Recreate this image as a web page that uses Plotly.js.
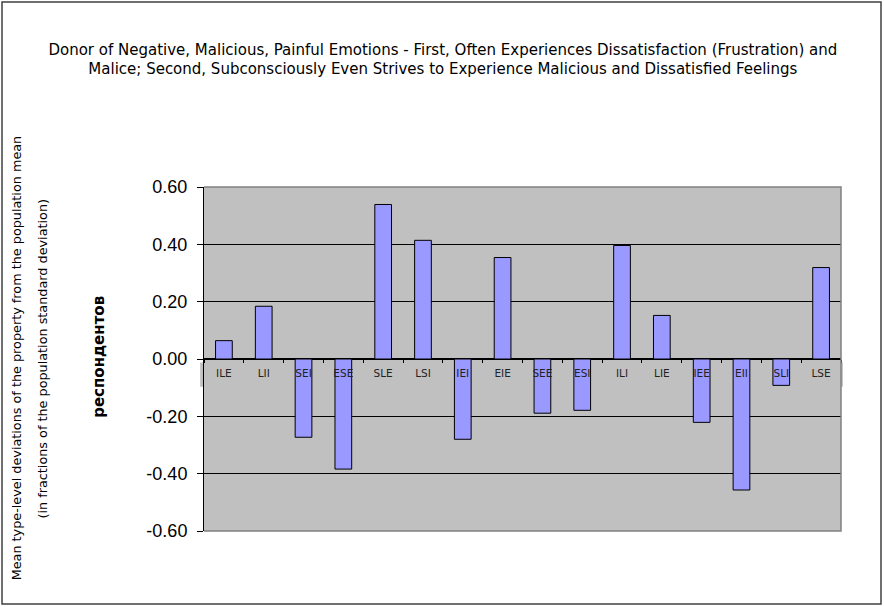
<!DOCTYPE html>
<html>
<head>
<meta charset="utf-8">
<script src="https://cdn.plot.ly/plotly-3.0.1.min.js"></script>
<style>
  html, body { margin: 0; padding: 0; background: #fff; }
  #chart { width: 884px; height: 607px; }
</style>
</head>
<body>
<div id="chart"></div>
<script>
// socionic types, in the order they appear on the chart
var types = ['ILE', 'LII', 'SEI', 'ESE', 'SLE', 'LSI', 'IEI', 'EIE',
             'SEE', 'ESI', 'ILI', 'LIE', 'IEE', 'EII', 'SLI', 'LSE'];

// mean deviation from population mean (in SD units)
var deviations = [0.064, 0.184, -0.273, -0.384, 0.539, 0.414, -0.280, 0.354,
                  -0.189, -0.179, 0.396, 0.152, -0.221, -0.457, -0.092, 0.319];

var yTicks = [-0.6, -0.4, -0.2, 0, 0.2, 0.4, 0.6];
var yTickLabels = ['-0.60', '-0.40', '-0.20', '0.00', '0.20', '0.40', '0.60'];

var titleText = 'Donor of Negative, Malicious, Painful Emotions - First, Often Experiences Dissatisfaction (Frustration) and<br>' +
                'Malice; Second, Subconsciously Even Strives to Experience Malicious and Dissatisfied Feelings';
var yTitle1 = 'Mean type-level deviations of the property from the population mean';
var yTitle2 = '(in fractions of the population standard deviation)';
var strayLabel = 'респондентов';

var trace = {
    type: 'bar',
    x: types,
    y: deviations,
    marker: {
        color: '#9999ff',
        line: { color: '#000000', width: 1 }
    },
    hoverinfo: 'x+y'
};

var layout = {
    width: 884,
    height: 607,
    margin: { l: 204, r: 43, t: 187, b: 76 },
    paper_bgcolor: '#ffffff',
    plot_bgcolor: '#c0c0c0',
    showlegend: false,
    bargap: 0.58,
    title: {
        text: titleText,
        font: { family: 'DejaVu Sans', size: 15, color: '#000000' },
        xref: 'paper',
        x: 0.375,
        xanchor: 'center',
        yref: 'container',
        y: 0.910,
        yanchor: 'top'
    },
    xaxis: {
        type: 'category',
        anchor: 'free',
        position: 0.5,
        showline: false,
        showgrid: false,
        zeroline: false,
        ticks: 'outside',
        tickson: 'boundaries',
        ticklen: 3,
        tickcolor: '#000000',
        ticklabelstandoff: 6,
        tickfont: { family: 'DejaVu Sans', size: 10.5, color: '#222222' },
        fixedrange: true
    },
    yaxis: {
        range: [-0.6, 0.6],
        tickvals: yTicks,
        ticktext: yTickLabels,
        ticks: 'outside',
        ticklen: 6,
        tickcolor: '#000000',
        ticklabelstandoff: 6,
        tickfont: { family: 'Liberation Sans', size: 18, color: '#000000' },
        showline: true,
        linecolor: '#000000',
        linewidth: 1,
        showgrid: true,
        gridcolor: '#000000',
        gridwidth: 1,
        zeroline: true,
        zerolinecolor: '#000000',
        zerolinewidth: 2,
        fixedrange: true
    },
    shapes: [
        // band behind the category labels, sticking out past the plot edges
        {
            type: 'rect', xref: 'paper', yref: 'paper', layer: 'below',
            x0: -0.006, x1: 1.003, y0: 0.419, y1: 0.49,
            fillcolor: '#c0c0c0', line: { width: 0 }
        },
        // grey frame on top, right and bottom of the plot area
        {
            type: 'path', xref: 'paper', yref: 'paper', layer: 'above',
            path: 'M 0 1 L 1 1 L 1 0 L 0 0',
            line: { color: '#808080', width: 1.5 }
        },
        // outer chart border
        {
            type: 'rect', xref: 'paper', yref: 'paper', layer: 'above',
            x0: -0.3171, x1: 1.0628, y0: -0.2122, y1: 1.5378,
            line: { color: '#404040', width: 1.5 }
        }
    ],
    annotations: [
        {
            text: yTitle1, textangle: -90, showarrow: false,
            xref: 'paper', yref: 'paper', x: -0.293, y: 0.503,
            xanchor: 'center', yanchor: 'middle',
            font: { family: 'DejaVu Sans', size: 12.8, color: '#000000' }
        },
        {
            text: yTitle2, textangle: -90, showarrow: false,
            xref: 'paper', yref: 'paper', x: -0.255, y: 0.5,
            xanchor: 'center', yanchor: 'middle',
            font: { family: 'DejaVu Sans', size: 12.8, color: '#000000' }
        },
        {
            text: '<b>' + strayLabel + '</b>', textangle: -90, showarrow: false,
            xref: 'paper', yref: 'paper', x: -0.165, y: 0.506,
            xanchor: 'center', yanchor: 'middle',
            font: { family: 'DejaVu Sans', size: 15, color: '#000000' }
        }
    ]
};

Plotly.newPlot('chart', [trace], layout, { displayModeBar: false, staticPlot: true });
</script>
</body>
</html>
